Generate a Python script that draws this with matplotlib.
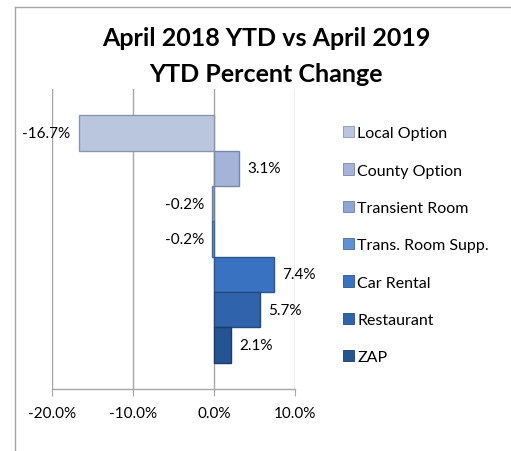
import numpy as np
import matplotlib.pyplot as plt
from matplotlib.patches import Patch
from matplotlib.lines import Line2D

# data
categories = ['Local Option', 'County Option', 'Transient Room', 'Trans. Room Supp.',
              'Car Rental', 'Restaurant', 'ZAP']
pct_change = [-16.7, 3.1, -0.2, -0.2, 7.4, 5.7, 2.1]
bar_colors = ['#bac5de', '#a4b4d8', '#8ea6d6', '#5f8fd4', '#3a72c2', '#2f63ab', '#255492']
edge_colors = ['#8a96b0', '#7886a8', '#6a7fa8', '#44699f', '#2a5590', '#22497e', '#1a3d6c']
xticks = [-20, -10, 0, 10]

plt.rcParams['font.family'] = ['Lato', 'DejaVu Sans']

fig = plt.figure(figsize=(5.11, 4.52), dpi=100)
ax = fig.add_axes([52/511, 1-390/452, (295-52)/511, 300/452])

n = len(categories)
ypos = np.arange(n)
ax.barh(ypos, pct_change, height=1.0, color=bar_colors, edgecolor=edge_colors,
        linewidth=1.0, zorder=3)

# labels outside bar ends
for y, v in zip(ypos, pct_change):
    off = 6 if v >= 0 else -6
    ha = 'left' if v >= 0 else 'right'
    ax.annotate(f'{v:.1f}%', (v, y), xytext=(off, 0), textcoords='offset points',
                ha=ha, va='center', fontsize=11, color='#000000')

ax.set_xlim(-20, 10)
ax.set_ylim(n - 1 + 0.5 + 0.75, -0.5 - 0.75)
ax.set_xticks(xticks)
ax.set_xticklabels([f'{t:.1f}%' for t in xticks], fontsize=11)
ax.set_yticks([])
ax.grid(axis='x', color='#a6a6a6', linewidth=1.0, zorder=0)
for s in ['top', 'right', 'left']:
    ax.spines[s].set_visible(False)
ax.spines['bottom'].set_color('#a6a6a6')
ax.spines['bottom'].set_linewidth(1.0)
ax.tick_params(axis='x', direction='out', length=5, color='#a6a6a6', pad=7)

fig.text(266/511, 1-38/452, 'April 2018 YTD vs April 2019', ha='center', va='center',
         fontsize=18, fontweight='bold')
fig.text(266/511, 1-75/452, 'YTD Percent Change', ha='center', va='center',
         fontsize=18, fontweight='bold')

handles = [Patch(facecolor=c, edgecolor=e, linewidth=0.6) for c, e in zip(bar_colors, edge_colors)]
fig.legend(handles, categories, loc='upper left', bbox_to_anchor=(343/511, 1-127/452),
           frameon=False, fontsize=11.5, handlelength=0.7, handleheight=0.7,
           handletextpad=0.2, labelspacing=1.45, borderaxespad=0, borderpad=0)

# chart border (cropped at right/bottom)
fig.add_artist(Line2D([15/511, 1], [1-8/452, 1-8/452], color='#a6a6a6', linewidth=1.0))
fig.add_artist(Line2D([15/511, 15/511], [0, 1-8/452], color='#a6a6a6', linewidth=1.0))

fig.savefig('out.png', dpi=100)
